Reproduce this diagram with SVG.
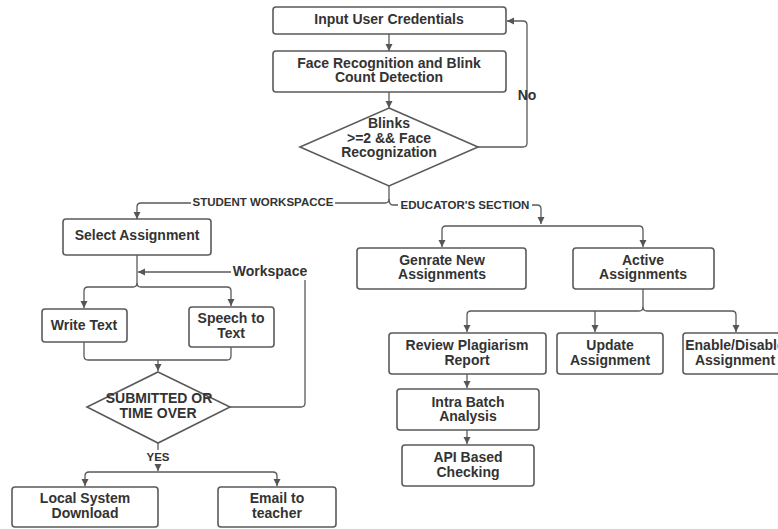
<svg xmlns="http://www.w3.org/2000/svg" width="778" height="529" viewBox="0 0 778 529">
<defs>
<marker id="arr" markerUnits="userSpaceOnUse" markerWidth="8" markerHeight="8" refX="7" refY="4" orient="auto">
<path d="M0,0.5 L7,4 L0,7.5 z" fill="#555"/>
</marker>
<style>
.box{fill:#fff;stroke:#5a5a5a;stroke-width:1.6}
.t{font-family:"Liberation Sans",Arial,sans-serif;font-weight:bold;font-size:14px;fill:#333;text-anchor:middle}
.lbl{font-family:"Liberation Sans",Arial,sans-serif;font-weight:bold;font-size:11.5px;fill:#333;text-anchor:middle}
.c{fill:none;stroke:#5a5a5a;stroke-width:1.3}
.a{marker-end:url(#arr)}
</style>
</defs>
<rect width="778" height="529" fill="#fff"/>
<g id="connectors">
<path class="c a" d="M389,34 V51"/>
<path class="c a" d="M389,92 V108"/>
<path class="c a" d="M478,147 H523 Q527,147 527,143 V25 Q527,21 523,21 H507"/>
<path class="c" d="M389,186 V199 Q389,203 385,203 H335"/>
<path class="c a" d="M191,203 H141 Q137,203 137,207 V219"/>
<path class="c" d="M389,199 Q389,205 393,205 H398"/>
<path class="c a" d="M532,205 H537 Q541,205 541,209 V224"/>
<path class="c a" d="M541,226 H446 Q442,226 442,230 V247"/>
<path class="c a" d="M541,226 H639 Q643,226 643,230 V247"/>
<path class="c a" d="M137,255 V283 Q137,287 133,287 H88 Q84,287 84,291 V308"/>
<path class="c a" d="M137,283 Q137,287 141,287 H227 Q231,287 231,291 V306"/>
<path class="c a" d="M231,272 H138"/>
<path class="c" d="M230,407 H301 Q305,407 305,403 V280"/>
<path class="c" d="M84,342 V356 Q84,360 88,360 H227 Q231,360 231,356 V347"/>
<path class="c a" d="M158,360 V371"/>
<path class="c" d="M158,443 V450"/>
<path class="c a" d="M158,464 V471"/>
<path class="c a" d="M158,472 H89 Q85,472 85,476 V486"/>
<path class="c a" d="M158,472 H273 Q277,472 277,476 V486"/>
<path class="c a" d="M643,289 V307 Q643,311 639,311 H471 Q467,311 467,315 V332"/>
<path class="c a" d="M643,307 Q643,311 647,311 H732 Q736,311 736,315 V332"/>
<path class="c a" d="M595,311 V332"/>
<path class="c a" d="M467,374 V388"/>
<path class="c a" d="M467,430 V444"/>
<text class="lbl" x="263" y="206">STUDENT WORKSPACCE</text>
<text class="lbl" x="465" y="209">EDUCATOR'S SECTION</text>
<text class="lbl" x="158" y="461">YES</text>
<text class="t" x="270" y="276">Workspace</text>
<text class="t" x="527" y="100">No</text>
</g>
<g id="input">
<rect class="box" x="273" y="7" width="233" height="27" rx="3"/>
<text class="t" x="389" y="24">Input User Credentials</text>
</g>
<g id="face">
<rect class="box" x="273" y="51" width="233" height="41" rx="3"/>
<text class="t" x="389" y="68">Face Recognition and Blink</text>
<text class="t" x="389" y="82">Count Detection</text>
</g>
<g id="blinks">
<polygon class="box" points="389,108 478,147 389,186 300,147"/>
<text class="t" x="389" y="128">Blinks</text>
<text class="t" x="389" y="143">&gt;=2 &amp;&amp; Face</text>
<text class="t" x="389" y="157">Recognization</text>
</g>
<g id="select">
<rect class="box" x="63" y="219" width="148" height="36" rx="3"/>
<text class="t" x="137" y="240">Select Assignment</text>
</g>
<g id="write">
<rect class="box" x="42" y="309" width="85" height="33" rx="3"/>
<text class="t" x="84" y="330">Write Text</text>
</g>
<g id="speech">
<rect class="box" x="189" y="307" width="85" height="40" rx="3"/>
<text class="t" x="231" y="323">Speech to</text>
<text class="t" x="231" y="338">Text</text>
</g>
<g id="submitted">
<polygon class="box" points="158,372 230,407 158,443 87,407"/>
<text class="t" x="159" y="403">SUBMITTED OR</text>
<text class="t" x="158" y="418">TIME OVER</text>
</g>
<g id="local">
<rect class="box" x="12" y="487" width="146" height="40" rx="3"/>
<text class="t" x="85" y="503">Local System</text>
<text class="t" x="85" y="518">Download</text>
</g>
<g id="email">
<rect class="box" x="218" y="487" width="118" height="40" rx="3"/>
<text class="t" x="277" y="503">Email to</text>
<text class="t" x="277" y="518">teacher</text>
</g>
<g id="generate">
<rect class="box" x="357" y="248" width="169" height="41" rx="3"/>
<text class="t" x="442" y="265">Genrate New</text>
<text class="t" x="442" y="279">Assignments</text>
</g>
<g id="active">
<rect class="box" x="573" y="248" width="141" height="41" rx="3"/>
<text class="t" x="643" y="265">Active</text>
<text class="t" x="643" y="279">Assignments</text>
</g>
<g id="review">
<rect class="box" x="389" y="333" width="157" height="41" rx="3"/>
<text class="t" x="467" y="350">Review Plagiarism</text>
<text class="t" x="467" y="365">Report</text>
</g>
<g id="update">
<rect class="box" x="557" y="333" width="106" height="41" rx="3"/>
<text class="t" x="610" y="350">Update</text>
<text class="t" x="610" y="365">Assignment</text>
</g>
<g id="enable">
<rect class="box" x="683" y="333" width="106" height="41" rx="3"/>
<text class="t" x="735" y="350">Enable/Disable</text>
<text class="t" x="735" y="365">Assignment</text>
</g>
<g id="intra">
<rect class="box" x="397" y="389" width="142" height="41" rx="3"/>
<text class="t" x="468" y="407">Intra Batch</text>
<text class="t" x="468" y="421">Analysis</text>
</g>
<g id="api">
<rect class="box" x="402" y="445" width="132" height="41" rx="3"/>
<text class="t" x="468" y="462">API Based</text>
<text class="t" x="468" y="477">Checking</text>
</g>
</svg>
